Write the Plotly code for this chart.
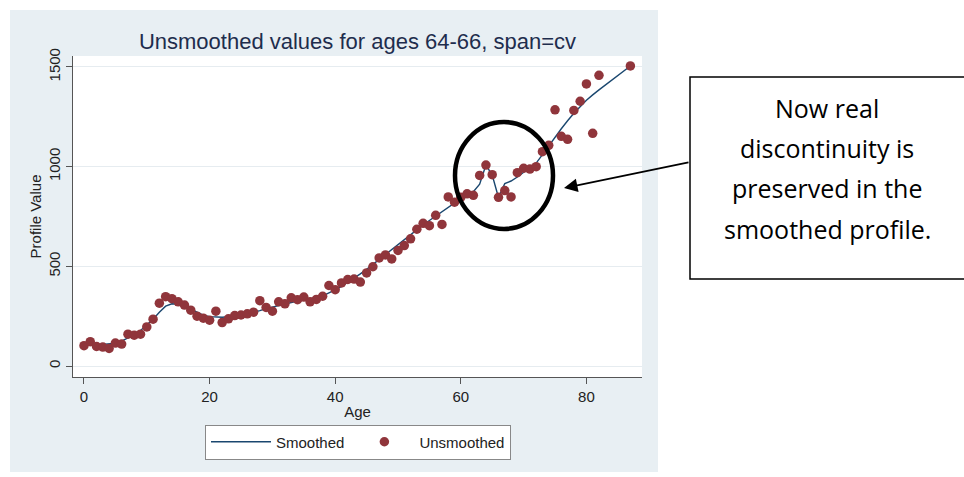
import plotly.graph_objects as go

# ---------------- data ----------------
ages = [0, 1, 2, 3, 4, 5, 6, 7, 8, 9, 10, 11, 12, 13, 14, 15, 16, 17, 18, 19,
        20, 21, 22, 23, 24, 25, 26, 27, 28, 29, 30, 31, 32, 33, 34, 35, 36, 37, 38, 39,
        40, 41, 42, 43, 44, 45, 46, 47, 48, 49, 50, 51, 52, 53, 54, 55, 56, 57, 58, 59,
        60, 61, 62, 63, 64, 65, 66, 67, 68, 69, 70, 71, 72, 73, 74, 75, 76, 77, 78, 79,
        80, 81, 82, 87]

unsmoothed = [102, 122, 98, 95, 88, 115, 110, 160, 155, 160, 196, 235, 315, 348, 338, 322, 306, 280, 250, 240,
              230, 275, 218, 237, 253, 256, 262, 270, 328, 294, 275, 322, 312, 342, 333, 346, 322, 334, 350, 404,
              383, 417, 434, 436, 421, 467, 498, 542, 557, 537, 580, 604, 638, 686, 716, 704, 756, 710, 848, 822,
              846, 864, 856, 956, 1008, 960, 846, 880, 848, 970, 992, 988, 1000, 1075, 1107, 1285, 1152, 1137, 1282, 1328,
              1415, 1167, 1458, 1505]

smoothed = [105, 108, 108, 108, 110, 115, 125, 140, 158, 178, 205, 235, 270, 300, 312, 310, 300, 285, 268, 255,
            248, 245, 245, 247, 250, 255, 260, 268, 278, 288, 296, 305, 313, 320, 326, 332, 337, 343, 352, 365,
            382, 400, 420, 440, 462, 485, 510, 535, 560, 585, 610, 635, 660, 685, 708, 730, 752, 775, 798, 820,
            840, 858, 875, 912, 1008, 958, 845, 915, 928, 948, 970, 992, 1018, 1060, 1105, 1150, 1190, 1230, 1268, 1300,
            1333, 1360, 1385, 1505]

title_text = "Unsmoothed values for ages 64-66, span=cv"
callout_lines = ["Now real", "discontinuity is", "preserved in the", "smoothed profile."]
x_ticks = [0, 20, 40, 60, 80]
y_ticks = [0, 500, 1000, 1500]

# ---------------- layout geometry (pixels) ----------------
W, H = 964, 477
PL, PR, PT, PB = 73, 642, 56, 377  # plot area


def px(x):
    return (x - PL) / (PR - PL)


def py(y):
    return (PB - y) / (PB - PT)


FONT = "Liberation Sans, Arial, sans-serif"
NAVY = "#1a476f"
MAROON = "#90353b"

fig = go.Figure()
fig.add_trace(go.Scatter(x=ages, y=smoothed, mode="lines", name="Smoothed",
                         line=dict(color=NAVY, width=1.4)))
fig.add_trace(go.Scatter(x=ages, y=unsmoothed, mode="markers", name="Unsmoothed",
                         marker=dict(color=MAROON, size=9.5, line=dict(width=0))))

shapes = [
    # graph region background
    dict(type="rect", xref="paper", yref="paper", x0=px(10), x1=px(658), y0=py(472), y1=py(10),
         fillcolor="#e8eff3", line=dict(width=0), layer="below"),
    # plot region white
    dict(type="rect", xref="paper", yref="paper", x0=0, x1=1, y0=0, y1=1,
         fillcolor="white", line=dict(width=0), layer="below"),
    # ellipse
    dict(type="circle", xref="paper", yref="paper", x0=px(455), x1=px(553), y0=py(229), y1=py(122),
         line=dict(color="black", width=4.5)),
    # callout box
    dict(type="rect", xref="paper", yref="paper", x0=px(690), x1=px(975), y0=py(279), y1=py(77),
         fillcolor="white", line=dict(color="black", width=1.5)),
]

annotations = [
    dict(xref="paper", yref="paper", x=px(564), y=py(188), ax=126, ay=-26,
         showarrow=True, arrowhead=2, arrowsize=1.5, arrowwidth=1.8, arrowcolor="black", text=""),
]
for line, yc in zip(callout_lines, [107.6, 148, 188, 228.5]):
    annotations.append(dict(xref="paper", yref="paper", x=px(827), y=py(yc), xanchor="center",
                            yanchor="middle", showarrow=False, text=line,
                            font=dict(family="Open Sans, sans-serif", size=25, color="black")))

fig.update_layout(
    width=W, height=H,
    margin=dict(l=PL, r=W - PR, t=PT, b=H - PB, pad=0),
    paper_bgcolor="white", plot_bgcolor="white",
    font=dict(family=FONT, color="#222222"),
    title=dict(text=title_text, x=0.5, xref="paper", xanchor="center",
               y=1 - 41 / H, yref="container", yanchor="middle",
               font=dict(family=FONT, size=22, color="#1e2d4d")),
    shapes=shapes,
    annotations=annotations,
    showlegend=True,
    legend=dict(orientation="h", x=px(358), xanchor="center", y=py(442), yanchor="middle",
                bgcolor="white", bordercolor="#888888", borderwidth=1,
                font=dict(family=FONT, size=15, color="#222222"),
                itemwidth=60, traceorder="normal"),
)

fig.update_xaxes(range=[-1.75, 88.85], tickvals=x_ticks, showgrid=False, zeroline=False,
                 showline=True, linecolor="#555555", linewidth=1.2,
                 ticks="outside", ticklen=6, tickcolor="#555555",
                 tickfont=dict(family=FONT, size=15, color="#222222"),
                 title=dict(text="Age", font=dict(family=FONT, size=15, color="#222222"), standoff=2))
fig.update_yaxes(range=[-55, 1555], tickvals=y_ticks, showgrid=True, gridcolor="#e6ecf0", gridwidth=1,
                 zeroline=False, showline=True, linecolor="#555555", linewidth=1.2,
                 ticks="outside", ticklen=6, tickcolor="#555555", tickangle=-90,
                 tickfont=dict(family=FONT, size=15, color="#222222"),
                 title=dict(text="Profile Value", font=dict(family=FONT, size=15, color="#222222"), standoff=0))

fig.write_html("out.html", config={"displayModeBar": False},
               post_script="document.body.style.margin='0';")
